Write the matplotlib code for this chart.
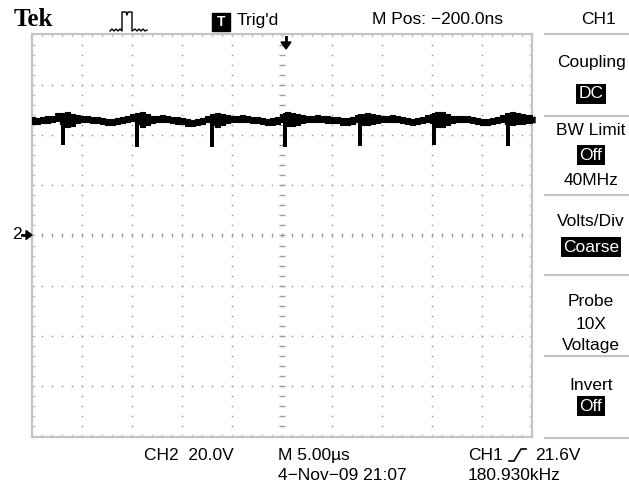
import numpy as np
import matplotlib
matplotlib.use('Agg')
import matplotlib.pyplot as plt
from matplotlib import font_manager
from matplotlib.patches import Polygon, Rectangle

W, H = 629, 486

# CH2 capture: 5 us/div, 20 V/div, 10 x 8 divisions, ground at centre
T_SPAN = (-25.0, 25.0)
V_SPAN = (-80.0, 80.0)

# upper / lower edge of the noisy trace band (V), one sample per 0.5 us
trace_upper = [
    47.2, 46.8, 47.2, 47.6, 47.6, 48.8, 48.8, 49.2, 48.4, 48.0,
    47.6, 47.6, 47.2, 47.2, 46.8, 46.4, 46.4, 46.8, 47.2, 47.6,
    48.4, 48.8, 49.2, 48.4, 47.6, 47.6, 48.0, 47.6, 47.2, 47.2,
    46.8, 46.4, 46.0, 46.4, 46.8, 47.6, 48.4, 48.8, 48.4, 48.0,
    47.6, 47.6, 48.0, 47.6, 47.2, 47.2, 46.8, 46.4, 46.8, 47.2,
    48.4, 49.2, 48.8, 48.4, 48.0, 47.6, 47.6, 48.0, 47.6, 47.6,
    47.2, 47.2, 46.8, 46.8, 47.2, 48.0, 48.4, 48.8, 48.4, 48.0,
    47.6, 47.6, 48.0, 47.6, 47.2, 46.8, 46.4, 46.8, 47.2, 48.0,
    48.4, 49.2, 49.2, 48.4, 47.6, 47.6, 47.6, 47.6, 47.2, 46.8,
    46.4, 46.4, 46.8, 47.2, 48.0, 48.8, 49.2, 48.8, 48.4, 48.0,
    48.0,
]
trace_lower = [
    44.4, 44.4, 44.8, 44.8, 45.2, 45.6, 44.4, 43.2, 43.6, 44.8,
    45.2, 45.2, 44.8, 44.8, 44.4, 44.0, 44.0, 44.4, 44.8, 45.2,
    45.6, 44.4, 43.2, 44.0, 44.8, 45.2, 45.2, 45.2, 44.8, 44.4,
    44.4, 43.6, 43.6, 44.0, 44.4, 45.2, 44.0, 43.2, 44.0, 44.8,
    45.2, 45.2, 45.2, 45.2, 44.8, 44.8, 44.4, 44.0, 44.0, 44.4,
    45.2, 43.6, 43.6, 44.0, 44.8, 45.2, 45.2, 45.2, 45.2, 44.8,
    44.8, 44.8, 44.0, 44.0, 44.4, 45.2, 44.0, 44.0, 44.4, 44.8,
    45.2, 45.2, 45.2, 45.2, 44.8, 44.4, 44.0, 44.4, 44.8, 45.2,
    44.8, 43.2, 43.2, 44.0, 44.8, 45.2, 45.2, 45.2, 44.8, 44.4,
    44.0, 44.0, 44.4, 44.8, 45.2, 44.4, 44.0, 44.4, 44.4, 44.8,
    44.8,
]

# switching spikes: time (us) and lowest point (V)
spike_t = [-21.9, -14.5, -7.0, 0.3, 7.8, 15.2, 22.6]
spike_min = [36.0, 35.2, 35.2, 35.2, 35.6, 36.0, 35.6]

# side menu (label, y pixel, inverted?)
menu_items = [
    ('Coupling', 63, False), ('DC', 94, True),
    ('BW Limit', 130, False), ('Off', 155, True), ('40MHz', 180, False),
    ('Volts/Div', 221, False), ('Coarse', 247, True),
    ('Probe', 301, False), ('10X', 324, False), ('Voltage', 345, False),
    ('Invert', 385, False), ('Off', 406, True),
]
menu_lines = [34, 116, 195, 275, 356, 438]

installed = {f.name for f in font_manager.fontManager.ttflist}
SANS = next((n for n in ['Liberation Sans Narrow', 'Liberation Sans', 'Roboto']
             if n in installed), 'DejaVu Sans')
FS = 12.5
BORDER = '#c4c4c4'
DOTS = '#9c9c9c'

fig = plt.figure(figsize=(W / 100, H / 100), dpi=100)
fig.patch.set_facecolor('white')

# graticule area in pixels: x 32..532, y 34.5..436.5
left, right, top, bottom = 32, 532, 34.5, 436.5
ax = fig.add_axes([left / W, (H - bottom) / H, (right - left) / W, (bottom - top) / H])
ax.set_xlim(*T_SPAN)
ax.set_ylim(*V_SPAN)

ax.set_xticks(np.arange(-25, 25.01, 1.0))
ax.set_yticks(np.arange(-80, 80.01, 4.0))
ax.tick_params(direction='in', length=2.2, width=1, color=BORDER,
               top=True, right=True, labelbottom=False, labelleft=False)
for sp in ax.spines.values():
    sp.set_color(BORDER)
    sp.set_linewidth(1.6)

minor_t = np.arange(-25, 25.01, 1.0)
minor_v = np.arange(-80, 80.01, 4.0)
for v in range(-60, 61, 20):
    if v:
        ax.plot(minor_t, np.full_like(minor_t, v), ls='none', marker='s',
                ms=1.1, mew=0, color=DOTS)
for t in range(-20, 21, 5):
    if t:
        ax.plot(np.full_like(minor_v, t), minor_v, ls='none', marker='s',
                ms=1.1, mew=0, color=DOTS)
# centre crosshair with short ticks
ax.plot(minor_t, np.zeros_like(minor_t), ls='none', marker='|', ms=3, mew=1, color=DOTS)
ax.plot(np.zeros_like(minor_v), minor_v, ls='none', marker='_', ms=4, mew=1, color=DOTS)

trace_t = np.linspace(T_SPAN[0], T_SPAN[1], len(trace_upper))
ax.fill_between(trace_t, trace_lower, trace_upper, step='mid',
                facecolor='black', edgecolor='black', lw=0.8, zorder=3)
spike_top = np.interp(spike_t, trace_t, trace_upper)
ax.bar(spike_t, spike_top - np.array(spike_min), bottom=spike_min, width=0.4,
       color='black', zorder=3)

# everything around the graticule, in pixel coordinates
ov = fig.add_axes([0, 0, 1, 1], zorder=5)
ov.set_xlim(0, W)
ov.set_ylim(H, 0)
ov.axis('off')
ov.patch.set_visible(False)

ov.text(14, 20, 'Tek', family='Liberation Serif', weight='bold', fontsize=18,
        ha='left', va='center')
pulse_x = [110, 112, 114, 116, 118, 120, 122, 122, 126, 127, 128, 132, 132,
           135, 137, 139, 141, 143, 145, 147]
pulse_y = [31, 29, 31, 29, 31, 29, 31, 12, 12, 15, 12, 12, 31,
           29, 31, 29, 31, 29, 31, 30]
ov.plot(pulse_x, pulse_y, color='black', lw=1)

ov.add_patch(Rectangle((212, 13), 18, 18, color='black'))
ov.text(221, 22, 'T', color='white', weight='bold', family=SANS, fontsize=10,
        ha='center', va='center')
ov.text(237, 21, "Trig'd", family=SANS, fontsize=FS, ha='left', va='center')
ov.text(372, 20, 'M Pos: \u2212200.0ns', family=SANS, fontsize=FS, ha='left', va='center')
ov.text(598, 20, 'CH1', family=SANS, fontsize=FS, ha='center', va='center')

# trigger position marker
ov.plot([286, 286], [37, 44], color='black', lw=2)
ov.add_patch(Polygon([(281, 42), (291, 42), (286, 49)], color='black'))
# CH2 ground marker
ov.text(17, 234, '2', family=SANS, fontsize=FS, ha='center', va='center')
ov.plot([22, 27], [235, 235], color='black', lw=2)
ov.add_patch(Polygon([(26, 230.5), (26, 239.5), (32, 235)], color='black'))
# trigger level marker
ov.add_patch(Polygon([(535, 117), (535, 123), (529, 120)], color='black'))

for y in menu_lines:
    ov.plot([545, 629], [y, y], color=BORDER, lw=1.6)
for label, y, inv in menu_items:
    if inv:
        ov.text(591, y, label, color='white', family=SANS, fontsize=FS,
                ha='center', va='center',
                bbox=dict(boxstyle='square,pad=0.12', fc='black', ec='none'))
    else:
        ov.text(591, y, label, family=SANS, fontsize=FS, ha='center', va='center')

ov.text(144, 455, 'CH2  20.0V', family=SANS, fontsize=FS, ha='left', va='center')
ov.text(278, 455, 'M 5.00\u00b5s', family=SANS, fontsize=FS, ha='left', va='center')
ov.text(468, 455, 'CH1', family=SANS, fontsize=FS, ha='left', va='center')
ov.plot([509, 514, 521, 526], [461, 461, 449, 449], color='black', lw=1.2)
ov.text(535, 455, '21.6V', family=SANS, fontsize=FS, ha='left', va='center')
ov.text(278, 475, '4\u2212Nov\u221209 21:07', family=SANS, fontsize=FS, ha='left', va='center')
ov.text(468, 475, '180.930kHz', family=SANS, fontsize=FS, ha='left', va='center')

fig.savefig('out.png', dpi=100)
